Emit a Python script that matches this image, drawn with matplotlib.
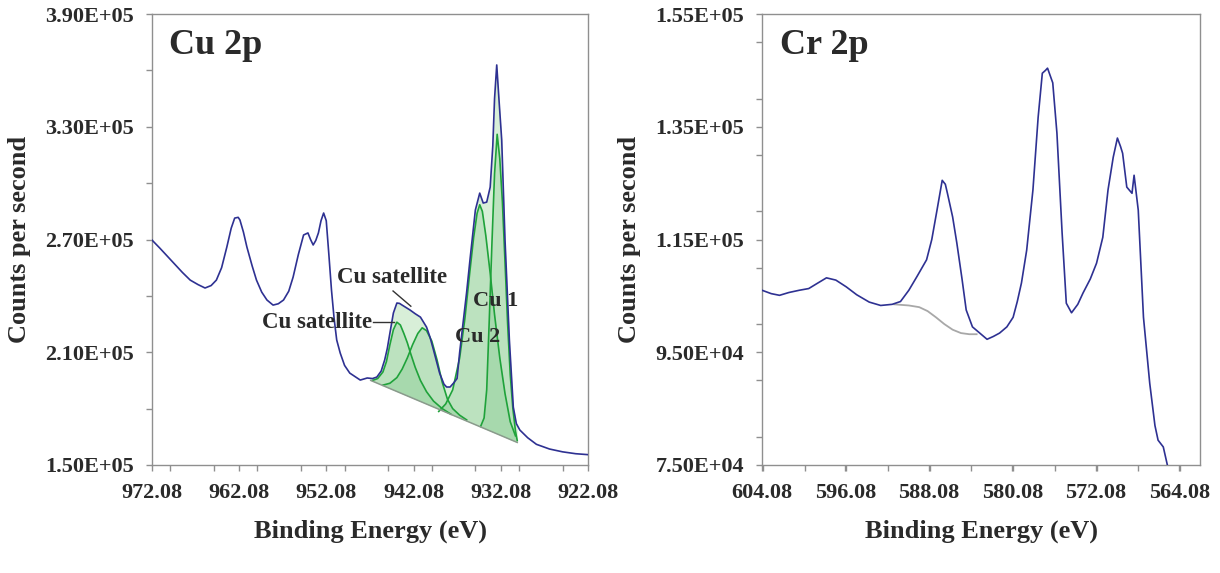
#!/usr/bin/env python3
import numpy as np
import matplotlib
matplotlib.use("Agg")
import matplotlib.pyplot as plt
from matplotlib.ticker import FixedLocator, MultipleLocator

# ------------------------------------------------------------------------
# DATA  (binding energy in eV, counts in thousands of counts/s)
# ------------------------------------------------------------------------
cu_be = [972.08, 971.2, 970.4, 969.6, 968.6, 967.7, 966.8, 966.0, 965.3, 964.7,
         964.1, 963.5, 963.0, 962.6, 962.2, 962.0, 961.6, 961.2, 960.6, 960.1,
         959.5, 958.9, 958.2, 957.6, 957.0, 956.4, 955.9, 955.3, 954.7, 954.2,
         953.9, 953.6, 953.3, 953.0, 952.7, 952.4, 952.1, 951.8, 951.5, 951.2,
         950.9, 950.5, 950.0, 949.4, 948.2, 947.4, 946.8, 946.3, 945.8, 945.4,
         945.1, 944.8, 944.4, 944.0, 943.7, 943.4, 942.5, 941.9, 941.3, 940.6,
         940.2, 939.8, 939.1, 938.6, 938.3, 937.9, 937.5, 937.1, 936.8, 936.4,
         936.0, 935.6, 935.0, 934.5, 934.1, 933.7, 933.3, 933.0, 932.8, 932.55,
         932.3, 931.98, 931.6, 931.1, 930.65, 930.3, 929.9, 929.0, 928.0, 926.5,
         925.0, 923.5, 922.08]
cu_cps = [269.7, 265.5, 261.5, 257.5, 252.5, 248.4, 246.0, 244.2, 245.5, 248.4,
          255.0, 266.0, 276.0, 281.4, 281.8, 280.4, 274.0, 266.0, 256.0, 248.4,
          242.0, 237.8, 235.1, 235.8, 237.8, 242.5, 250.0, 262.0, 272.4, 273.5,
          270.0, 267.1, 269.5, 273.5, 280.0, 284.1, 280.0, 262.0, 243.1, 228.0,
          216.5, 209.6, 203.0, 198.9, 195.2, 196.3, 196.0, 196.8, 200.0, 205.9,
          212.0, 220.2, 230.9, 236.2, 236.0, 235.1, 232.5, 230.5, 228.7, 223.4,
          218.0, 211.2, 198.9, 193.0, 191.5, 191.5, 193.6, 196.0, 210.0, 226.0,
          242.0, 260.0, 285.7, 294.7, 289.4, 289.9, 297.9, 320.0, 345.0, 362.9,
          345.0, 323.0, 269.7, 216.5, 180.8, 172.0, 168.6, 164.5, 161.0, 158.5,
          157.0, 156.0, 155.5]

# background of the fitted region (straight line)
cu_bg_be  = [947.0, 930.2]
cu_bg_cps = [195.0, 162.0]

# fitted components (absolute, background included)
sat1_be  = [946.8, 946.2, 945.6, 945.2, 944.8, 944.4, 944.0, 943.6, 943.2, 942.8,
            942.4, 941.9, 941.3, 940.6, 939.8, 938.8, 937.8]
sat1_cps = [195.0, 196.0, 199.5, 205.0, 214.0, 222.0, 226.0, 224.5, 220.0, 215.0,
            209.0, 202.0, 195.0, 189.0, 184.0, 180.0, 177.0]

sat2_be  = [945.6, 944.8, 944.0, 943.4, 942.8, 942.2, 941.6, 941.1, 940.6, 940.0,
            939.4, 938.8, 938.2, 937.6, 936.8, 936.0]
sat2_cps = [192.5, 193.5, 196.5, 201.0, 207.0, 214.0, 220.0, 223.0, 221.5, 216.0,
            206.0, 194.0, 185.0, 180.0, 176.5, 174.0]

cu2_be  = [939.2, 938.4, 937.6, 936.8, 936.2, 935.7, 935.2, 934.8, 934.5, 934.2,
           933.8, 933.3, 932.8, 932.2, 931.6, 931.0, 930.4]
cu2_cps = [178.5, 182.5, 190.0, 207.0, 228.0, 250.0, 271.0, 284.0, 288.5, 285.0,
           272.0, 252.0, 230.0, 207.0, 188.0, 173.0, 165.5]

cu1_be  = [934.4, 934.0, 933.7, 933.4, 933.1, 932.8, 932.5, 932.2, 931.9, 931.6,
           931.3, 931.0, 930.7, 930.4, 930.2]
cu1_cps = [170.5, 175.0, 190.0, 228.0, 268.0, 305.0, 326.0, 313.0, 290.0, 258.0,
           225.0, 198.0, 180.0, 168.0, 163.0]

cr_be = [604.08, 603.2, 602.4, 601.5, 600.5, 599.6, 598.8, 597.9, 597.0, 596.0,
         595.0, 593.8, 592.7, 591.6, 590.8, 590.0, 589.2, 588.3, 587.8, 587.3,
         586.8, 586.5, 586.3, 585.8, 585.4, 584.9, 584.5, 583.9, 583.2, 582.5,
         581.9, 581.3, 580.6, 580.0, 579.6, 579.2, 578.7, 578.1, 577.6, 577.2,
         576.9, 576.7, 576.2, 575.8, 575.3, 574.9, 574.4, 573.8, 573.3, 572.6,
         572.0, 571.4, 570.9, 570.4, 570.0, 569.7, 569.5, 569.1, 568.6, 568.4,
         568.0, 567.5, 566.9, 566.4, 566.1, 565.6, 565.1]
cr_cps = [106.0, 105.4, 105.1, 105.6, 106.0, 106.3, 107.2, 108.2, 107.8, 106.6,
          105.2, 103.9, 103.3, 103.5, 104.0, 106.0, 108.5, 111.4, 115.0, 120.2,
          125.5, 124.8, 123.2, 119.0, 114.4, 108.0, 102.5, 99.5, 98.4, 97.3,
          97.8, 98.4, 99.5, 101.2, 104.0, 107.3, 113.1, 123.8, 136.7, 144.5,
          145.0, 145.4, 142.8, 133.9, 116.1, 103.7, 102.0, 103.5, 105.5, 108.0,
          110.8, 115.4, 123.8, 129.6, 133.0, 131.5, 130.3, 124.3, 123.2, 126.4,
          120.2, 101.2, 89.5, 82.0, 79.4, 78.2, 74.1]

cr_bg_be  = [591.4, 590.0, 589.0, 588.2, 587.4, 586.6, 585.8, 585.0, 584.2, 583.5]
cr_bg_cps = [103.5, 103.3, 103.0, 102.3, 101.2, 100.0, 99.0, 98.4, 98.2, 98.2]

# ------------------------------------------------------------------------
# AXIS TICKS
# ------------------------------------------------------------------------
cu_xticks  = [972.08, 962.08, 952.08, 942.08, 932.08, 922.08]
cu_yticks  = [1.5e5, 2.1e5, 2.7e5, 3.3e5, 3.9e5]
cu_ylabels = ["1.50E+05", "2.10E+05", "2.70E+05", "3.30E+05", "3.90E+05"]
cr_xticks  = [604.08, 596.08, 588.08, 580.08, 572.08, 564.08]
cr_yticks  = [7.5e4, 9.5e4, 1.15e5, 1.35e5, 1.55e5]
cr_ylabels = ["7.50E+04", "9.50E+04", "1.15E+05", "1.35E+05", "1.55E+05"]

# ------------------------------------------------------------------------
# STYLE
# ------------------------------------------------------------------------
plt.rcParams['font.family'] = ['Liberation Serif', 'DejaVu Serif']
plt.rcParams['font.weight'] = 'bold'
plt.rcParams['axes.labelweight'] = 'bold'
TXT   = '#2a2a2a'
SPINE = '#8f8f8f'
BLUE  = '#2e3192'
GREEN = '#1fa23a'


def k(vals):
    return np.asarray(vals, dtype=float) * 1000.0


def style(ax, xlim, ylim, xticks, xminor, yticks, ylabels, yminor, title):
    ax.set_xlim(*xlim)
    ax.set_ylim(*ylim)
    ax.xaxis.set_major_locator(FixedLocator(xticks))
    ax.set_xticklabels([f"{t:.2f}" for t in xticks])
    ax.xaxis.set_minor_locator(MultipleLocator(xminor))
    ax.yaxis.set_major_locator(FixedLocator(yticks))
    ax.set_yticklabels(ylabels)
    ax.yaxis.set_minor_locator(MultipleLocator(yminor))
    for s in ax.spines.values():
        s.set_color(SPINE)
        s.set_linewidth(1.0)
    ax.tick_params(which='both', direction='out', length=4, width=1.0,
                   color=SPINE, labelcolor=TXT, pad=9)
    ax.tick_params(axis='x', labelsize=16)
    ax.tick_params(axis='y', labelsize=16)
    ax.set_xlabel("Binding Energy (eV)", fontsize=19, color=TXT,
                  fontweight='bold', labelpad=12)
    ax.set_ylabel("Counts per second", fontsize=19, color=TXT,
                  fontweight='bold', labelpad=10)
    ax.text(0.04, 0.93, title, transform=ax.transAxes, fontsize=26,
            color=TXT, ha='left', va='center')


fig = plt.figure(figsize=(12.2, 5.73), dpi=100)

# ------------------------------------------------------------------------
# Cu 2p
# ------------------------------------------------------------------------
ax1 = fig.add_axes([0.1246, 0.1885, 0.3574, 0.787])
style(ax1, (972.08, 922.08), (1.5e5, 3.9e5), cu_xticks, 5,
      cu_yticks, cu_ylabels, 3e4, "Cu 2p")

cu_x = np.asarray(cu_be)
cu_y = k(cu_cps)


def bg_at(x):
    return np.interp(x, cu_bg_be[::-1], k(cu_bg_cps[::-1]))


# envelope fill between background and measured curve
m = (cu_x <= cu_bg_be[0]) & (cu_x >= cu_bg_be[1])
ex = np.concatenate([[cu_bg_be[0]], cu_x[m], [cu_bg_be[1]]])
ey = np.concatenate([[np.interp(cu_bg_be[0], cu_x[::-1], cu_y[::-1])], cu_y[m],
                     [np.interp(cu_bg_be[1], cu_x[::-1], cu_y[::-1])]])
ax1.fill_between(ex, bg_at(ex), ey, color='#d8efd8', lw=0, zorder=1)

for cx, cy in [(sat1_be, sat1_cps), (sat2_be, sat2_cps),
               (cu2_be, cu2_cps), (cu1_be, cu1_cps)]:
    cx = np.asarray(cx)
    cy = k(cy)
    ax1.fill_between(cx, bg_at(cx), cy, color='#6cbf78', alpha=0.25, lw=0,
                     zorder=2)
    ax1.plot(cx, cy, color=GREEN, lw=1.2, zorder=3)

ax1.plot(cu_bg_be, k(cu_bg_cps), color='#8a9a8c', lw=1.1, zorder=3)
ax1.plot(cu_x, cu_y, color=BLUE, lw=1.2, zorder=4)

# labels of the fitted components
ax1.text(944.56, 2.50e5, "Cu satellite", fontsize=16.5, color=TXT,
         ha='center', va='center', zorder=5)
ax1.plot([944.44, 942.4], [2.426e5, 2.345e5], color='#333333', lw=1.0, zorder=5)
ax1.text(953.16, 2.261e5, "Cu satellite", fontsize=16.5, color=TXT,
         ha='center', va='center', zorder=5)
ax1.plot([946.74, 944.33], [2.261e5, 2.261e5], color='#333333', lw=1.0, zorder=5)
ax1.text(932.63, 2.373e5, "Cu 1", fontsize=16, color=TXT,
         ha='center', va='center', zorder=5)
ax1.text(934.70, 2.181e5, "Cu 2", fontsize=16, color=TXT,
         ha='center', va='center', zorder=5)

# ------------------------------------------------------------------------
# Cr 2p
# ------------------------------------------------------------------------
ax2 = fig.add_axes([0.6246, 0.1885, 0.3590, 0.787])
style(ax2, (604.08, 562.08), (7.5e4, 1.55e5), cr_xticks, 4,
      cr_yticks, cr_ylabels, 1e4, "Cr 2p")

ax2.plot(cr_bg_be, k(cr_bg_cps), color='#a8a8a8', lw=1.3, zorder=2)
ax2.plot(cr_be, k(cr_cps), color=BLUE, lw=1.2, zorder=3)

plt.savefig("out.png", dpi=100)
plt.close()
